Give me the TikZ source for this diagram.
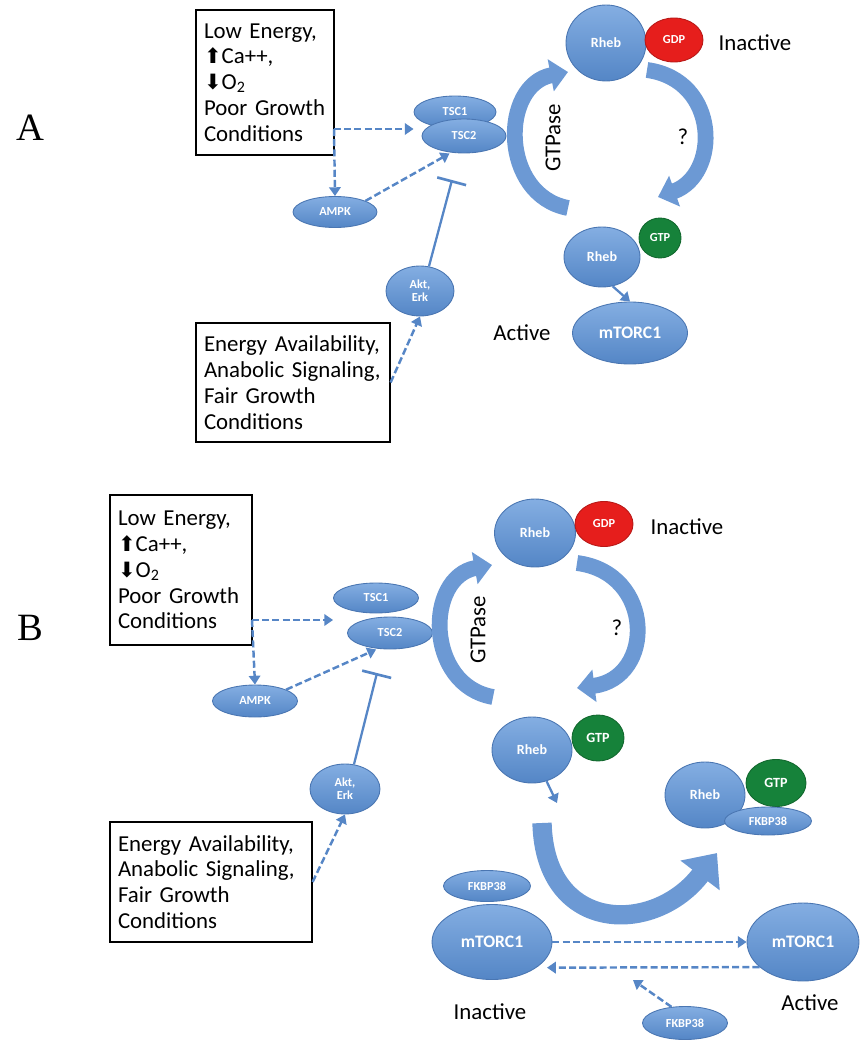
\documentclass[tikz,border=0pt]{standalone}
\usepackage{fontspec}
\newfontfamily\calib{Carlito}
\newfontfamily\arrowfont{DejaVu Sans}
\newfontfamily\panelfont{Liberation Serif}
\usetikzlibrary{shapes.geometric,arrows.meta}

\definecolor{protlight}{RGB}{132,174,226}
\definecolor{protblue}{RGB}{84,134,198}
\definecolor{protdark}{RGB}{74,118,178}
\definecolor{linkblue}{RGB}{86,134,198}
\definecolor{arcblue}{RGB}{108,153,212}
\definecolor{gdpred}{RGB}{230,30,28}
\definecolor{gtpgreen}{RGB}{22,130,58}

\tikzset{
  protein/.style={ellipse, draw=protdark, line width=0.5pt, top color=protlight,
    bottom color=protblue, text=white, inner sep=0pt, align=center,
    font=\calib\bfseries\fontsize{7}{7.5}\selectfont},
  gdp/.style={ellipse, draw=gdpred!80!black, line width=0.5pt, fill=gdpred,
    text=white, inner sep=0pt, font=\calib\bfseries\fontsize{7}{8}\selectfont},
  gtp/.style={gdp, draw=gtpgreen!80!black, fill=gtpgreen},
  condbox/.style={draw, line width=0.8pt, align=left, inner xsep=4.5pt,
    font=\calib\fontsize{13}{14.7}\selectfont},
  lbl/.style={font=\calib\fontsize{13}{15}\selectfont},
  panel/.style={font=\panelfont\fontsize{22}{24}\selectfont},
  act/.style={linkblue, line width=1.4pt, dash pattern=on 4pt off 1.8pt,
    -{Triangle[length=5pt,width=6.5pt]}},
  push/.style={linkblue, line width=1.3pt, -{Triangle[length=5pt,width=6.5pt]}},
  hold/.style={linkblue, line width=1.3pt, -{Bar[width=17pt,line width=1.5pt]}},
  band/.style={arcblue, line width=9pt, -{Triangle[length=10pt,width=18pt]}}
}
\newcommand{\upar}{{\arrowfont\fontsize{12}{14}\selectfont ⬆}}
\newcommand{\dnar}{{\arrowfont\fontsize{12}{14}\selectfont ⬇}}

\begin{document}
\begin{tikzpicture}[x=0.02cm, y=-0.02cm]
\useasboundingbox (0,0) rectangle (860,1044);

% ---------------- Panel A ----------------
\node[panel] (labA) at (30,128) {A};

% Conditions
\node[condbox, text width=2.44cm, minimum height=2.9cm] (boxA1) at (265,82.5)
  {Low Energy,\\\upar Ca++,\\\dnar O\textsubscript{2}\\Poor Growth\\Conditions};
\node[condbox, text width=3.56cm, minimum height=2.38cm] (boxA2) at (293,382.5)
  {Energy Availability,\\Anabolic Signaling,\\Fair Growth\\Conditions};

% TSC complex, AMPK, Akt
\node[protein, minimum width=1.64cm, minimum height=0.64cm] (TSCa1) at (455,112) {TSC1};
\node[protein, minimum width=1.68cm, minimum height=0.68cm] (TSCa2) at (464,136) {TSC2};
\node[protein, minimum width=1.68cm, minimum height=0.62cm] (AMPKa) at (335,212) {AMPK};
\node[protein, minimum width=1.36cm, minimum height=1.0cm] (AktA) at (420,291) {Akt,\\Erk};

% Rheb cycle
\node[protein, minimum width=1.6cm, minimum height=1.52cm, font=\calib\bfseries\fontsize{8}{9}\selectfont] (RhebA1) at (606,43) {Rheb};
\node[gdp, minimum width=1.16cm, minimum height=0.88cm] (GDPa) at (674,40) {GDP};
\node[protein, minimum width=1.52cm, minimum height=1.2cm, font=\calib\bfseries\fontsize{8}{9}\selectfont] (RhebA2) at (602,257) {Rheb};
\node[gtp, minimum width=0.84cm, minimum height=0.8cm] (GTPa) at (660,238) {GTP};
\node[protein, minimum width=2.3cm, minimum height=1.24cm, font=\calib\bfseries\fontsize{10}{11}\selectfont] (mTORa) at (630,333) {mTORC1};

\node[lbl] (inA) at (755,43) {Inactive};
\node[lbl] (acA) at (522,333) {Active};
\node[lbl] (qA) at (683,137) {?};
\node[lbl, rotate=90] (gtpaseA) at (553,138) {GTPase};

% Connectors
\coordinate (jA) at (334,129);
\coordinate (barA) at (452,180);
\draw[act] (jA) -- (jA -| TSCa1.west);
\draw[act] (jA) -- (AMPKa.north);
\draw[act, shorten >=1pt] (AMPKa.20) -- (TSCa2.232);
\draw[hold] (AktA.70) -- (barA);
\draw[act] (boxA2.east) -- (AktA.south);
\draw[push] (RhebA2.-70) -- (mTORa.north);

% Cycle arrows
\coordinate (gA1) at (568,208);
\coordinate (gA2) at (568,72);
\coordinate (qA1) at (647,70);
\coordinate (qA2) at (658,197);
\draw[band] (gA1) .. controls (500,195) and (500,85) .. (gA2);
\draw[band] (qA1) .. controls (720,80) and (720,175) .. (qA2);

% ---------------- Panel B ----------------
\node[panel] (labB) at (30,628) {B};

% Conditions
\node[condbox, text width=2.52cm, minimum height=3.0cm] (boxB1) at (181,570)
  {Low Energy,\\\upar Ca++,\\\dnar O\textsubscript{2}\\Poor Growth\\Conditions};
\node[condbox, text width=3.72cm, minimum height=2.4cm] (boxB2) at (211,882)
  {Energy Availability,\\Anabolic Signaling,\\Fair Growth\\Conditions};

% TSC complex, AMPK, Akt
\node[protein, minimum width=1.7cm, minimum height=0.6cm] (TSCb1) at (376,598) {TSC1};
\node[protein, minimum width=1.7cm, minimum height=0.64cm] (TSCb2) at (390,633) {TSC2};
\node[protein, minimum width=1.7cm, minimum height=0.64cm] (AMPKb) at (255,701) {AMPK};
\node[protein, minimum width=1.4cm, minimum height=1.0cm] (AktB) at (345,789) {Akt,\\Erk};

% Rheb cycle
\node[protein, minimum width=1.62cm, minimum height=1.36cm, font=\calib\bfseries\fontsize{8}{9}\selectfont] (RhebB1) at (535,533) {Rheb};
\node[gdp, minimum width=1.16cm, minimum height=0.9cm] (GDPb) at (604,524) {GDP};
\node[protein, minimum width=1.6cm, minimum height=1.32cm, font=\calib\bfseries\fontsize{8}{9}\selectfont] (RhebB2) at (532,750) {Rheb};
\node[gtp, minimum width=1.04cm, minimum height=0.92cm, font=\calib\bfseries\fontsize{8}{9}\selectfont] (GTPb) at (598,738) {GTP};

% Rheb-GTP-FKBP38 complex
\node[protein, minimum width=1.6cm, minimum height=1.32cm, font=\calib\bfseries\fontsize{8}{9}\selectfont] (RhebC) at (705,795) {Rheb};
\node[gtp, minimum width=1.2cm, minimum height=0.94cm, font=\calib\bfseries\fontsize{8}{9}\selectfont] (GTPc) at (776,783) {GTP};
\node[protein, minimum width=1.74cm, minimum height=0.56cm] (FKBPc) at (768,821) {FKBP38};

% mTORC1 states
\node[protein, minimum width=1.74cm, minimum height=0.62cm] (FKBPa) at (487,886) {FKBP38};
\node[protein, minimum width=2.4cm, minimum height=1.5cm, font=\calib\bfseries\fontsize{10}{11}\selectfont] (mTORb1) at (492,942) {mTORC1};
\node[protein, minimum width=2.24cm, minimum height=1.56cm, font=\calib\bfseries\fontsize{10}{11}\selectfont] (mTORb2) at (803,942) {mTORC1};
\node[protein, minimum width=1.7cm, minimum height=0.66cm] (FKBPb) at (685,1023) {FKBP38};

\node[lbl] (inB) at (687,527) {Inactive};
\node[lbl] (qB) at (617,628) {?};
\node[lbl, rotate=90] (gtpaseB) at (478,630) {GTPase};
\node[lbl] (inB2) at (490,1012) {Inactive};
\node[lbl] (acB2) at (810,1003) {Active};

% Connectors
\coordinate (jB) at (252,620);
\coordinate (barB) at (377,673);
\coordinate (dB) at (557,803);
\coordinate (fB) at (633,980);
\draw[act] (jB) -- (jB -| TSCb1.west);
\draw[act] (jB) -- (AMPKb.north);
\draw[act, shorten >=1pt] (AMPKb.20) -- (TSCb2.232);
\draw[hold] (AktB.70) -- (barB);
\draw[act] (boxB2.east) -- (AktB.south);
\draw[push] (RhebB2.-65) -- (dB);
\draw[act] (mTORb1.east) -- (mTORb2.west);
\draw[act, shorten >=6pt] (mTORb2.210) -- (mTORb1.330);
\draw[act] (FKBPb.130) -- (fB);

% Cycle arrows
\coordinate (gB1) at (493,697);
\coordinate (gB2) at (492,565);
\coordinate (qB1) at (577,563);
\coordinate (qB2) at (577,688);
\coordinate (cB1) at (542,823);
\coordinate (cB2) at (717,853);
\draw[band] (gB1) .. controls (425,685) and (425,577) .. (gB2);
\draw[band] (qB1) .. controls (655,573) and (655,678) .. (qB2);
\draw[band, line width=11pt, -{Triangle[length=16pt,width=27pt]}]
  (cB1) .. controls (545,935) and (655,935) .. (cB2);

\end{tikzpicture}
\end{document}
